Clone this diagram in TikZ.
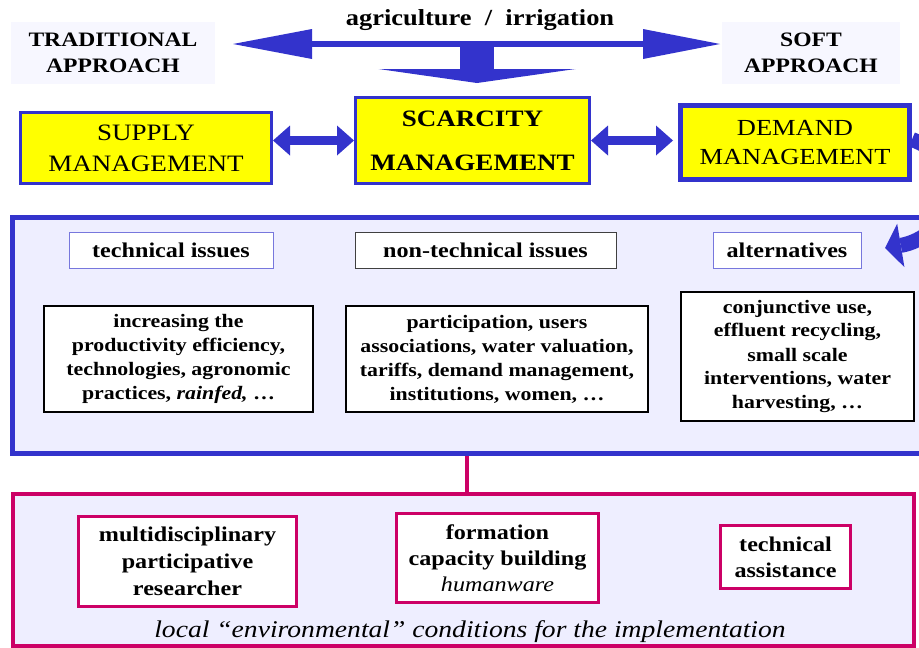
\documentclass[tikz,border=0pt]{standalone}
\usepackage{fontspec}
\setmainfont{Liberation Serif}[FakeStretch=1.15]
\usepackage{xcolor}
\definecolor{navy}{HTML}{3333CC}
\definecolor{lightnavy}{HTML}{7777DD}
\definecolor{lavender}{HTML}{EEEEFF}
\definecolor{ghost}{HTML}{F7F7FF}
\definecolor{rose}{HTML}{CC0066}
\definecolor{signal}{HTML}{FFFF00}
\usetikzlibrary{arrows.meta, positioning, calc}

\begin{document}
\begin{tikzpicture}[x=1pt, y=-1pt,
  approach/.style={fill=ghost, minimum width=#1, minimum height=62pt, align=center,
    inner sep=0pt, font=\fontsize{20.5}{26}\selectfont\bfseries},
  mgmt/.style={draw=navy, fill=signal, line width=3pt, align=center, inner sep=0pt},
  heading/.style={draw=#1, fill=white, line width=1pt, minimum height=36pt, inner sep=0pt,
    font=\fontsize{21}{24}\selectfont\bfseries},
  item/.style={draw=#1, fill=white, line width=1.5pt, align=center, inner sep=0pt,
    font=\fontsize{19}{24}\selectfont\bfseries},
  panel/.style={draw=#1, fill=lavender, inner sep=0pt},
  link/.style={draw=navy, line width=9pt,
    {Triangle[length=17pt,width=30pt,line width=0pt]}-{Triangle[length=17pt,width=30pt,line width=0pt]}}
]
  \useasboundingbox (0,0) rectangle (919,648);

  % frames
  \node[panel=navy, line width=5pt, minimum width=922pt, minimum height=236pt] (issues) at (473.5,335.5) {};
  \node[panel=rose, line width=4pt, minimum width=901pt, minimum height=152pt] (local) at (463,569.5) {};
  \draw[rose, line width=4pt] ([xshift=4pt]issues.south -| local.north) -- ([xshift=4pt]local.north);

  % top row
  \node[approach=204pt] (trad) at (113,53) {TRADITIONAL\\APPROACH};
  \node[approach=178pt] (soft) at (811,53) {SOFT\\APPROACH};
  \node[font=\fontsize{23}{26}\selectfont\bfseries] (crop) at (480,20) {agriculture~~/~~irrigation};

  \coordinate (ltip) at (233,44);
  \coordinate (rtip) at (720,44);
  \coordinate (fork) at (477,44);
  \draw[navy, line width=6pt,
    {Triangle[length=79pt,width=30pt,line width=0pt]}-{Triangle[length=77pt,width=30pt,line width=0pt]}]
    (ltip) -- (rtip);

  \node[mgmt, minimum width=251pt, minimum height=71pt, font=\fontsize{23.5}{31}\selectfont]
    (supply) at (146,148) {SUPPLY\\MANAGEMENT};
  \node[mgmt, minimum width=234pt, minimum height=86pt, font=\fontsize{23.5}{26}\selectfont\bfseries]
    (scarcity) at (472.5,140.5) {SCARCITY\\[18pt]MANAGEMENT};
  \node[mgmt, line width=5pt, minimum width=229pt, minimum height=74pt, font=\fontsize{23}{29}\selectfont]
    (demand) at (795,142.5) {DEMAND\\MANAGEMENT};

  \draw[navy, line width=34pt, -{Triangle[length=14pt,width=197pt,line width=0pt]}, shorten >=13pt]
    (fork) -- (fork |- scarcity.north);
  \draw[link] (supply.east |- scarcity.west) -- (scarcity.west);
  \draw[link, shorten >=5pt] (scarcity.east) -- (demand.west |- scarcity.east);

  % issues
  \node[heading=lightnavy, minimum width=204pt] (tech) at (171,250) {technical issues};
  \node[heading=darkgray, minimum width=261pt] (nontech) at (485.5,250) {non-technical issues};
  \node[heading=lightnavy, minimum width=148pt] (alt) at (787,250) {alternatives};

  \node[item=black, minimum width=269pt, minimum height=106pt] (techlist) at (178.5,359)
    {increasing the\\productivity efficiency,\\technologies, agronomic\\practices, \textit{rainfed,} \dots};
  \node[item=black, minimum width=302pt, minimum height=106pt] (softlist) at (497,359)
    {participation, users\\associations, water valuation,\\tariffs, demand management,\\institutions, women, \dots};
  \node[item=black, minimum width=233pt, minimum height=129pt] (altlist) at (797.5,356.5)
    {conjunctive use,\\effluent recycling,\\small scale\\interventions, water\\harvesting, \dots};

  \coordinate (alttip) at (885,248);
  \draw[navy, line width=15pt, -{Triangle[length=16pt,width=44pt,line width=0pt]}]
    ([yshift=3pt]demand.east) .. controls (990,170) and (945,238) .. (alttip);

  % implementation
  \node[item=rose, line width=3pt, minimum width=218pt, minimum height=90pt,
    font=\fontsize{21}{27}\selectfont\bfseries] (research) at (187.5,561.5)
    {multidisciplinary\\participative\\researcher};
  \node[item=rose, line width=3pt, minimum width=202pt, minimum height=89pt,
    font=\fontsize{21}{26}\selectfont\bfseries] (training) at (497.5,558)
    {formation\\capacity building\\\mdseries\itshape humanware};
  \node[item=rose, line width=3pt, minimum width=130pt, minimum height=63pt,
    font=\fontsize{21}{26}\selectfont\bfseries] (assist) at (785.5,557)
    {technical\\assistance};
  \node[font=\fontsize{24}{26}\selectfont\itshape] (cond) at (470,632)
    {local “environmental” conditions for the implementation};
\end{tikzpicture}
\end{document}
